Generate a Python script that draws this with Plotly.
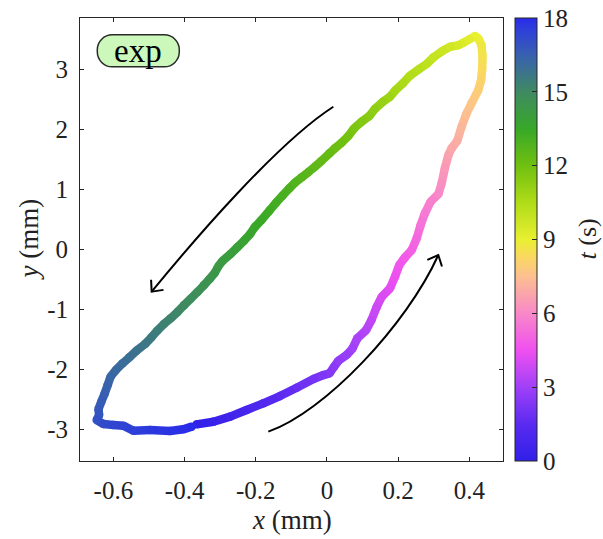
import math
import plotly.graph_objects as go
from plotly.colors import sample_colorscale

# ---------------- data ----------------
X_MM = [-0.366, -0.319, -0.272, -0.226, -0.179, -0.132, -0.085, -0.038, -0.010, 0.007,
        0.020, 0.032, 0.055, 0.072, 0.085, 0.110, 0.125, 0.140, 0.154, 0.177,
        0.191, 0.203, 0.219, 0.238, 0.252, 0.263, 0.275, 0.291, 0.313, 0.322,
        0.331, 0.341, 0.350, 0.366, 0.378, 0.392, 0.406, 0.425, 0.433, 0.436,
        0.437, 0.434, 0.425, 0.416, 0.400, 0.383, 0.369, 0.346, 0.325, 0.299,
        0.280, 0.259, 0.233, 0.213, 0.191, 0.177, 0.156, 0.135, 0.119, 0.097,
        0.076, 0.060, 0.041, 0.022, 0.007, -0.015, -0.034, -0.052, -0.071, -0.090,
        -0.106, -0.125, -0.143, -0.162, -0.184, -0.202, -0.216, -0.233, -0.252, -0.271,
        -0.293, -0.306, -0.315, -0.329, -0.346, -0.364, -0.383, -0.402, -0.420, -0.439,
        -0.458, -0.477, -0.493, -0.511, -0.535, -0.555, -0.574, -0.593, -0.608, -0.616,
        -0.625, -0.634, -0.642, -0.640, -0.647, -0.628, -0.600, -0.572, -0.544, -0.497,
        -0.441, -0.404, -0.380]
Y_MM = [-2.911, -2.867, -2.783, -2.672, -2.561, -2.439, -2.300, -2.156, -2.089, -2.061,
        -1.950, -1.850, -1.756, -1.644, -1.478, -1.339, -1.172, -0.950, -0.783, -0.644,
        -0.450, -0.256, -0.128, -0.006, 0.189, 0.411, 0.606, 0.800, 0.928, 1.106,
        1.356, 1.578, 1.689, 1.817, 2.050, 2.272, 2.439, 2.661, 2.828, 3.022,
        3.217, 3.411, 3.522, 3.561, 3.506, 3.450, 3.406, 3.383, 3.317, 3.206,
        3.094, 3.011, 2.900, 2.772, 2.650, 2.550, 2.461, 2.350, 2.228, 2.133,
        2.022, 1.894, 1.783, 1.689, 1.606, 1.483, 1.383, 1.294, 1.206, 1.117,
        1.022, 0.900, 0.783, 0.650, 0.494, 0.383, 0.261, 0.150, 0.039, -0.072,
        -0.183, -0.283, -0.383, -0.483, -0.594, -0.706, -0.817, -0.928, -1.039, -1.144,
        -1.239, -1.350, -1.461, -1.572, -1.683, -1.794, -1.894, -2.006, -2.117, -2.256,
        -2.406, -2.533, -2.661, -2.756, -2.839, -2.906, -2.922, -2.933, -3.017, -3.006,
        -3.022, -2.994, -2.950]
T_S = [0.0, 0.3, 0.6, 0.9, 1.2, 1.5, 1.8, 2.1, 2.3, 2.4,
       2.55, 2.7, 2.85, 3.0, 3.2, 3.4, 3.6, 3.85, 4.05, 4.25,
       4.45, 4.65, 4.8, 4.95, 5.15, 5.4, 5.6, 5.8, 6.0, 6.2,
       6.45, 6.7, 6.85, 7.0, 7.25, 7.5, 7.7, 7.95, 8.15, 8.35,
       8.55, 8.75, 8.9, 9.0, 9.16, 9.32, 9.48, 9.64, 9.8, 9.96,
       10.12, 10.28, 10.44, 10.6, 10.76, 10.92, 11.08, 11.24, 11.4, 11.56,
       11.72, 11.88, 12.0, 12.12, 12.24, 12.36, 12.48, 12.6, 12.71, 12.83,
       12.95, 13.07, 13.19, 13.31, 13.43, 13.55, 13.67, 13.79, 13.9, 14.02,
       14.14, 14.26, 14.38, 14.5, 14.62, 14.74, 14.86, 14.98, 15.09, 15.21,
       15.33, 15.45, 15.57, 15.69, 15.81, 15.93, 16.05, 16.17, 16.28, 16.4,
       16.52, 16.64, 16.76, 16.88, 17.0, 17.15, 17.3, 17.42, 17.5, 17.65,
       17.8, 17.9, 18.0]

X_TICKS = [-0.6, -0.4, -0.2, 0, 0.2, 0.4]
X_TICK_LABELS = ["-0.6", "-0.4", "-0.2", "0", "0.2", "0.4"]
Y_TICKS = [-3, -2, -1, 0, 1, 2, 3]
Y_TICK_LABELS = ["-3", "-2", "-1", "0", "1", "2", "3"]
T_TICKS = [0, 3, 6, 9, 12, 15, 18]
T_MIN, T_MAX = 0, 18

X_RANGE = [-0.6938, 0.4944]
Y_RANGE = [-3.522, 3.862]

# direction arrows (cubic Bezier: start, ctrl1, ctrl2, tip), data units
ARROW_DOWN = [(0.0178, 2.383), (-0.1395, 1.783), (-0.3745, 0.156), (-0.4925, -0.700)]
ARROW_UP = [(-0.1648, -3.033), (-0.0056, -2.700), (0.2238, -1.256), (0.3127, -0.0889)]

# ---------------- style ----------------
FONT = "Liberation Serif"
INK = "#262626"
W, H = 603, 539
ML, MR, MT, MB = 80, 100, 18, 78
PW, PH = W - ML - MR, H - MT - MB

CSCALE = [
    [0.0, "rgb(48,32,232)"],
    [1.5 / 18, "rgb(90,42,240)"],
    [3 / 18, "rgb(160,64,248)"],
    [4.5 / 18, "rgb(240,80,240)"],
    [6 / 18, "rgb(248,136,200)"],
    [7.5 / 18, "rgb(252,192,144)"],
    [8.3 / 18, "rgb(250,216,96)"],
    [9 / 18, "rgb(232,240,48)"],
    [10.5 / 18, "rgb(176,220,24)"],
    [12 / 18, "rgb(112,192,16)"],
    [13.5 / 18, "rgb(56,168,40)"],
    [15 / 18, "rgb(63,138,98)"],
    [16.5 / 18, "rgb(56,96,176)"],
    [17.5 / 18, "rgb(46,64,216)"],
    [1.0, "rgb(42,42,234)"],
]

LW = 8.5

fig = go.Figure()

# coloured trajectory: one short segment per consecutive pair
for i in range(len(X_MM) - 1):
    tm = 0.5 * (T_S[i] + T_S[i + 1])
    col = sample_colorscale(CSCALE, [(tm - T_MIN) / (T_MAX - T_MIN)])[0]
    fig.add_trace(go.Scatter(
        x=[X_MM[i], X_MM[i + 1]], y=[Y_MM[i], Y_MM[i + 1]],
        mode="lines", line=dict(color=col, width=LW),
        hoverinfo="skip", showlegend=False))

# round joints + colour bar
fig.add_trace(go.Scatter(
    x=X_MM, y=Y_MM, mode="markers", showlegend=False,
    marker=dict(size=LW, color=T_S, colorscale=CSCALE, cmin=T_MIN, cmax=T_MAX,
                line=dict(width=0),
                showscale=True,
                colorbar=dict(
                    x=(515 - ML) / PW, xanchor="left", xpad=0,
                    y=0.5, yanchor="middle", ypad=0,
                    len=1, lenmode="fraction",
                    thickness=22, thicknessmode="pixels",
                    outlinecolor=INK, outlinewidth=1,
                    tickmode="array", tickvals=T_TICKS,
                    ticktext=[str(v) for v in T_TICKS],
                    ticks="inside", ticklen=5, tickcolor=INK, tickwidth=1,
                    tickfont=dict(family=FONT, size=25, color="#222"),
                ))))

# ---------------- arrows ----------------
sx = PW / (X_RANGE[1] - X_RANGE[0])
sy = PH / (Y_RANGE[1] - Y_RANGE[0])

shapes = []
for pts in (ARROW_DOWN, ARROW_UP):
    (x0, y0), (x1, y1), (x2, y2), (x3, y3) = pts
    shapes.append(dict(
        type="path", xref="x", yref="y",
        path=f"M {x0},{y0} C {x1},{y1} {x2},{y2} {x3},{y3}",
        line=dict(color="black", width=2)))
    # open arrow head computed in pixel space
    bx, by = (x2 - x3) * sx, (y2 - y3) * sy
    n = math.hypot(bx, by)
    bx, by = bx / n, by / n
    L = 12
    arms = []
    for ang in (math.radians(42), -math.radians(42)):
        ax = bx * math.cos(ang) - by * math.sin(ang)
        ay = bx * math.sin(ang) + by * math.cos(ang)
        arms.append((x3 + L * ax / sx, y3 + L * ay / sy))
    shapes.append(dict(
        type="path", xref="x", yref="y",
        path=f"M {arms[0][0]},{arms[0][1]} L {x3},{y3} L {arms[1][0]},{arms[1][1]}",
        line=dict(color="black", width=2)))

# "exp" pill box (pixel-sized, anchored in paper coords)
bcx, bcy = (138.3 - ML) / PW, (MT + PH - 50.8) / PH
hw, hh, r = 41, 16, 15
k = 0.5523 * r
pill = (f"M {-hw + r},{-hh} L {hw - r},{-hh} "
        f"C {hw - r + k},{-hh} {hw},{-hh + r - k} {hw},{-hh + r} "
        f"L {hw},{hh - r} "
        f"C {hw},{hh - r + k} {hw - r + k},{hh} {hw - r},{hh} "
        f"L {-hw + r},{hh} "
        f"C {-hw + r - k},{hh} {-hw},{hh - r + k} {-hw},{hh - r} "
        f"L {-hw},{-hh + r} "
        f"C {-hw},{-hh + r - k} {-hw + r - k},{-hh} {-hw + r},{-hh} Z")
shapes.append(dict(type="path", xref="paper", yref="paper",
                   xsizemode="pixel", ysizemode="pixel",
                   xanchor=bcx, yanchor=bcy, path=pill,
                   fillcolor="#ccf8bc", line=dict(color="#2a2a2a", width=1.5)))

annotations = [
    dict(text="exp", xref="paper", yref="paper", x=bcx, y=bcy,
         xanchor="center", yanchor="middle", showarrow=False,
         font=dict(family=FONT, size=33, color="black")),
    dict(text="<i>x</i> (mm)", xref="paper", yref="paper",
         x=0.5, y=(MT + PH - 520) / PH, xanchor="center", yanchor="middle",
         showarrow=False, font=dict(family=FONT, size=27, color="#222")),
    dict(text="<i>y</i> (mm)", xref="paper", yref="paper",
         x=(28 - ML) / PW, y=0.5, xanchor="center", yanchor="middle",
         textangle=-90, showarrow=False,
         font=dict(family=FONT, size=27, color="#222")),
    dict(text="<i>t</i> (s)", xref="paper", yref="paper",
         x=(587 - ML) / PW, y=0.5, xanchor="center", yanchor="middle",
         textangle=-90, showarrow=False,
         font=dict(family=FONT, size=26, color="#222")),
]

axis_common = dict(
    showgrid=False, zeroline=False, showline=True, linecolor=INK, linewidth=1,
    mirror="allticks", ticks="inside", ticklen=4, tickwidth=1, tickcolor=INK,
    tickfont=dict(family=FONT, size=25, color="#222"), tickmode="array")

fig.update_layout(
    width=W, height=H,
    margin=dict(l=ML, r=MR, t=MT, b=MB, autoexpand=False),
    paper_bgcolor="white", plot_bgcolor="white",
    font=dict(family=FONT),
    xaxis=dict(range=X_RANGE, tickvals=X_TICKS, ticktext=X_TICK_LABELS,
               ticklabelstandoff=7, **axis_common),
    yaxis=dict(range=Y_RANGE, tickvals=Y_TICKS, ticktext=Y_TICK_LABELS,
               ticklabelstandoff=6, **axis_common),
    shapes=shapes, annotations=annotations,
)

fig.write_html("out.html",
               config={"displayModeBar": False},
               post_script="document.body.style.margin='0';"
                           "document.body.style.overflow='hidden';")
